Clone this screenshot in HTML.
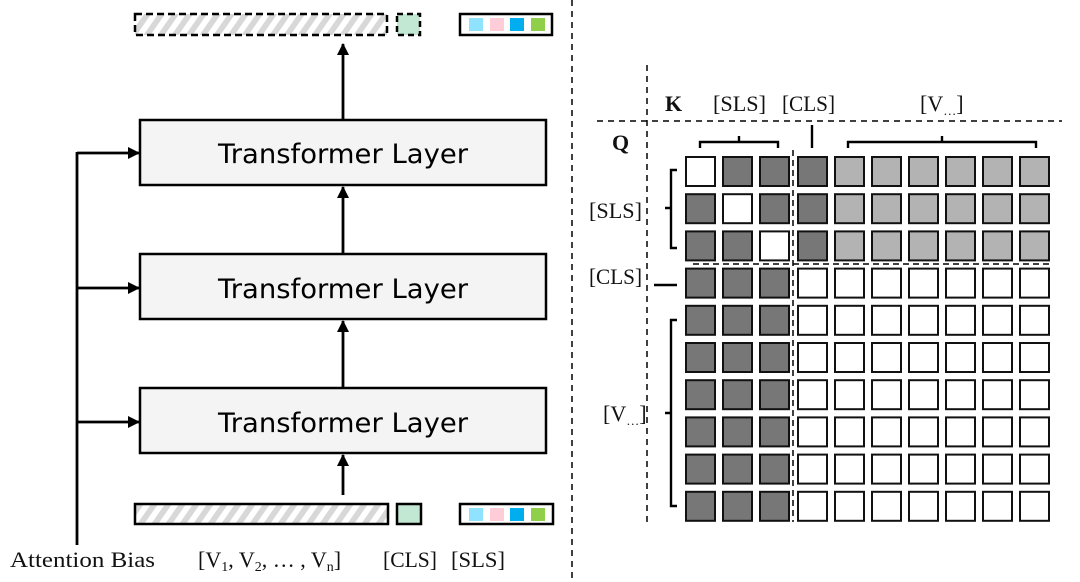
<!DOCTYPE html>
<html><head><meta charset="utf-8"><style>
html,body{margin:0;padding:0;background:#fff;}
svg{display:block;}
.s{font-family:"Liberation Serif",serif;font-size:22px;fill:#111;}
.t{font-family:"DejaVu Sans","Liberation Sans",sans-serif;font-size:27px;fill:#000;}
</style></head><body>
<svg width="1080" height="582" viewBox="0 0 1080 582" xmlns="http://www.w3.org/2000/svg">
<defs>
<pattern id="hatch" width="14" height="20" patternUnits="userSpaceOnUse" patternTransform="skewX(-35)">
<rect width="14" height="20" fill="#fff"/><rect width="7" height="20" fill="#d8d8d8"/>
</pattern>
<marker id="ah" markerWidth="12" markerHeight="12" refX="11" refY="6" orient="auto" markerUnits="userSpaceOnUse">
<path d="M0,0 L12,6 L0,12 z" fill="#000"/></marker>
</defs>
<line x1="572" y1="0" x2="572" y2="582" stroke="#000" stroke-width="1.5" stroke-dasharray="6,5"/>
<rect x="135" y="14" width="252" height="21" fill="url(#hatch)" stroke="#000" stroke-width="2.5" stroke-dasharray="7,4"/>
<rect x="397" y="14" width="23" height="21" fill="#c2e8d4" stroke="#000" stroke-width="2.5" stroke-dasharray="6,4"/>
<rect x="460" y="14" width="92" height="21" fill="#fff" stroke="#000" stroke-width="2.5"/>
<rect x="469" y="18" width="14" height="13" fill="#8fe3ff"/><rect x="490" y="18" width="14" height="13" fill="#ffcdd8"/>
<rect x="510" y="18" width="14" height="13" fill="#00adef"/><rect x="531" y="18" width="14" height="13" fill="#8fcf4a"/>
<g stroke="#000" stroke-width="2.5" fill="#f4f4f4">
<rect x="140" y="120" width="406" height="65"/>
<rect x="140" y="254" width="406" height="65"/>
<rect x="140" y="388" width="406" height="65"/>
</g>
<text class="t" x="343" y="163" text-anchor="middle" textLength="250" lengthAdjust="spacingAndGlyphs">Transformer Layer</text>
<text class="t" x="343" y="298" text-anchor="middle" textLength="250" lengthAdjust="spacingAndGlyphs">Transformer Layer</text>
<text class="t" x="343" y="432" text-anchor="middle" textLength="250" lengthAdjust="spacingAndGlyphs">Transformer Layer</text>
<g stroke="#000" stroke-width="2.8" marker-end="url(#ah)">
<line x1="343" y1="120" x2="343" y2="44"/>
<line x1="343" y1="254" x2="343" y2="187"/>
<line x1="343" y1="388" x2="343" y2="321"/>
<line x1="343" y1="495" x2="343" y2="455"/>
<line x1="77" y1="153" x2="139" y2="153"/>
<line x1="77" y1="288" x2="139" y2="288"/>
<line x1="77" y1="422" x2="139" y2="422"/>
</g>
<line x1="77" y1="152" x2="77" y2="545" stroke="#000" stroke-width="2.8"/>
<rect x="135" y="504" width="253" height="20" fill="url(#hatch)" stroke="#000" stroke-width="2.5"/>
<rect x="397" y="504" width="24" height="20" fill="#c2e8d4" stroke="#000" stroke-width="2.5"/>
<rect x="460" y="504" width="93" height="20" fill="#fff" stroke="#000" stroke-width="2.5"/>
<rect x="469" y="508" width="14" height="13" fill="#8fe3ff"/><rect x="490" y="508" width="14" height="13" fill="#ffcdd8"/>
<rect x="510" y="508" width="14" height="13" fill="#00adef"/><rect x="531" y="508" width="14" height="13" fill="#8fcf4a"/>
<text class="s" x="10" y="567" textLength="145" lengthAdjust="spacingAndGlyphs">Attention Bias</text>
<text class="s" x="198" y="567">[V<tspan font-size="14" dy="4">1</tspan><tspan dy="-4">, V</tspan><tspan font-size="14" dy="4">2</tspan><tspan dy="-4">, … , V</tspan><tspan font-size="14" dy="4">n</tspan><tspan dy="-4">]</tspan></text>
<text class="s" x="383" y="567" textLength="54" lengthAdjust="spacingAndGlyphs">[CLS]</text>
<text class="s" x="451" y="567" textLength="54" lengthAdjust="spacingAndGlyphs">[SLS]</text>
<line x1="647" y1="65" x2="647" y2="522" stroke="#000" stroke-width="1.5" stroke-dasharray="6,5"/>
<line x1="597" y1="121" x2="1062" y2="121" stroke="#000" stroke-width="1.5" stroke-dasharray="6,5"/>
<text class="s" x="665" y="111" font-weight="bold">K</text>
<text class="s" x="713" y="111" textLength="53" lengthAdjust="spacingAndGlyphs">[SLS]</text>
<text class="s" x="782" y="111" textLength="53" lengthAdjust="spacingAndGlyphs">[CLS]</text>
<text class="s" x="920" y="111">[V<tspan font-size="13" dy="4">…</tspan><tspan dy="-4">]</tspan></text>
<text class="s" x="612" y="150" font-weight="bold">Q</text>
<g fill="none" stroke="#000" stroke-width="2.4">
<path d="M700,148 v-6 h78 v6 M739,142 v-6"/>
<path d="M812,125 v23"/>
<path d="M848,148 v-6 h188 v6 M942,142 v-6"/>
<path d="M677,170 h-6 v78 h6 M671,208 h-6"/>
<path d="M654,285 h23"/>
<path d="M677,320 h-6 v186 h6 M671,413 h-6"/>
</g>
<text class="s" x="589" y="218" textLength="53" lengthAdjust="spacingAndGlyphs">[SLS]</text>
<text class="s" x="589" y="284" textLength="53" lengthAdjust="spacingAndGlyphs">[CLS]</text>
<text class="s" x="603" y="421">[V<tspan font-size="13" dy="4">…</tspan><tspan dy="-4">]</tspan></text>
<g id="grid" stroke="#111" stroke-width="2"></g>
<line x1="793" y1="150" x2="793" y2="522" stroke="#000" stroke-width="1.5" stroke-dasharray="6,4"/>
<line x1="693" y1="264" x2="1052" y2="264" stroke="#000" stroke-width="1.5" stroke-dasharray="6,4"/>
<script>
var g=document.getElementById('grid');
var xs=[686,723,760,798,835,872,909,946,983,1020];
for(var r=0;r<10;r++){for(var c=0;c<10;c++){
var f;
if(r<3){ if(c<3) f=(c==r)?'#fff':'#777'; else if(c==3) f='#777'; else f='#b3b3b3'; }
else { f=(c<3)?'#777':'#fff'; }
var e=document.createElementNS('http://www.w3.org/2000/svg','rect');
e.setAttribute('x',xs[c]);e.setAttribute('y',157+r*37.2);
e.setAttribute('width',29);e.setAttribute('height',29);e.setAttribute('fill',f);
g.appendChild(e);}}
</script>
</svg>
</body></html>
